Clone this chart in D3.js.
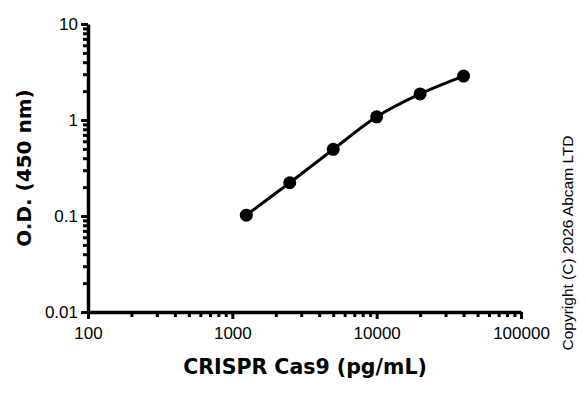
<!DOCTYPE html>
<html>
<head>
<meta charset="utf-8">
<title>CRISPR Cas9 standard curve</title>
<script src="https://cdnjs.cloudflare.com/ajax/libs/d3/7.8.5/d3.min.js"></script>
<style>
body{
margin:0;
background:#fff
}
svg{
display:block
}
.tick text{
font-family:"Liberation Sans", Arial, sans-serif;
font-size:17px;
fill:#000
}
.tick line, .domain{
stroke:#000
}
</style>
</head>
<body>
<svg width="586" height="403"></svg>

<script>

// concentration (pg/mL) and O.D. 450 nm
var conc = [1250, 2500, 5000, 10000, 20000, 40000]
var od = [0.102, 0.222, 0.495, 1.08, 1.87, 2.87]

var xTicks = [100, 1000, 10000, 100000]
var yTicks = [0.01, 0.1, 1, 10]

var svg = d3.select('svg')

var x = d3.scaleLog().domain([100, 100000]).range([88, 521])
var y = d3.scaleLog().domain([0.01, 10]).range([312, 24])

// minor tick values 2..9 per decade
function minors(lo, hi){
	var out = []
	for(var d = lo; d < hi; d *= 10){
		for(var k = 2; k < 10; k++) out.push(d * k)
	}
	return out
}

var xAxisG = svg.append('g').attr('transform', 'translate(0,312)')
xAxisG.append('g')
	.call(d3.axisBottom(x).tickValues(minors(100, 100000)).tickFormat('').tickSize(5).tickSizeOuter(0))
	.call(g => g.select('.domain').remove())
	.selectAll('line').style('stroke-width', '3px')
xAxisG.append('g')
	.call(d3.axisBottom(x).tickValues(xTicks).tickFormat(d3.format('d')).tickSize(7).tickSizeOuter(0).tickPadding(8))
	.call(g => g.select('.domain').style('stroke-width', '3.5px'))
	.call(g => g.selectAll('line').style('stroke-width', '3px'))

var yAxisG = svg.append('g').attr('transform', 'translate(88,0)')
yAxisG.append('g')
	.call(d3.axisLeft(y).tickValues(minors(0.01, 10)).tickFormat('').tickSize(5).tickSizeOuter(0))
	.call(g => g.select('.domain').remove())
	.selectAll('line').style('stroke-width', '3px')
yAxisG.append('g')
	.call(d3.axisLeft(y).tickValues(yTicks).tickFormat(d => d >= 1 ? d3.format('d')(d) : String(d)).tickSize(7).tickSizeOuter(0).tickPadding(3))
	.call(g => g.select('.domain').style('stroke-width', '3.5px'))
	.call(g => g.selectAll('line').style('stroke-width', '3px'))

var pts = conc.map((c, i) => [c, od[i]])

svg.append('path')
	.datum(pts)
	.attr('fill', 'none')
	.attr('stroke', '#000')
	.attr('stroke-width', 3)
	.attr('d', d3.line().x(d => x(d[0])).y(d => y(d[1])).curve(d3.curveMonotoneX))

svg.append('g')
	.selectAll('circle')
	.data(pts)
	.join('circle')
	.attr('cx', d => x(d[0]))
	.attr('cy', d => y(d[1]))
	.attr('r', 6.5)
	.attr('fill', '#000')

svg.append('text')
	.attr('x', 305)
	.attr('y', 374)
	.attr('text-anchor', 'middle')
	.attr('font-family', '"DejaVu Sans", sans-serif')
	.attr('font-weight', 'bold')
	.attr('font-size', 20.5)
	.text('CRISPR Cas9 (pg/mL)')

svg.append('text')
	.attr('transform', 'translate(31,168) rotate(-90)')
	.attr('text-anchor', 'middle')
	.attr('font-family', '"DejaVu Sans", sans-serif')
	.attr('font-weight', 'bold')
	.attr('font-size', 20)
	.text('O.D. (450 nm)')

svg.append('text')
	.attr('transform', 'translate(573,243) rotate(-90)')
	.attr('text-anchor', 'middle')
	.attr('font-family', '"Liberation Sans", Arial, sans-serif')
	.attr('font-size', 15.5)
	.text('Copyright (C) 2026 Abcam LTD')

</script>
</body>
</html>
